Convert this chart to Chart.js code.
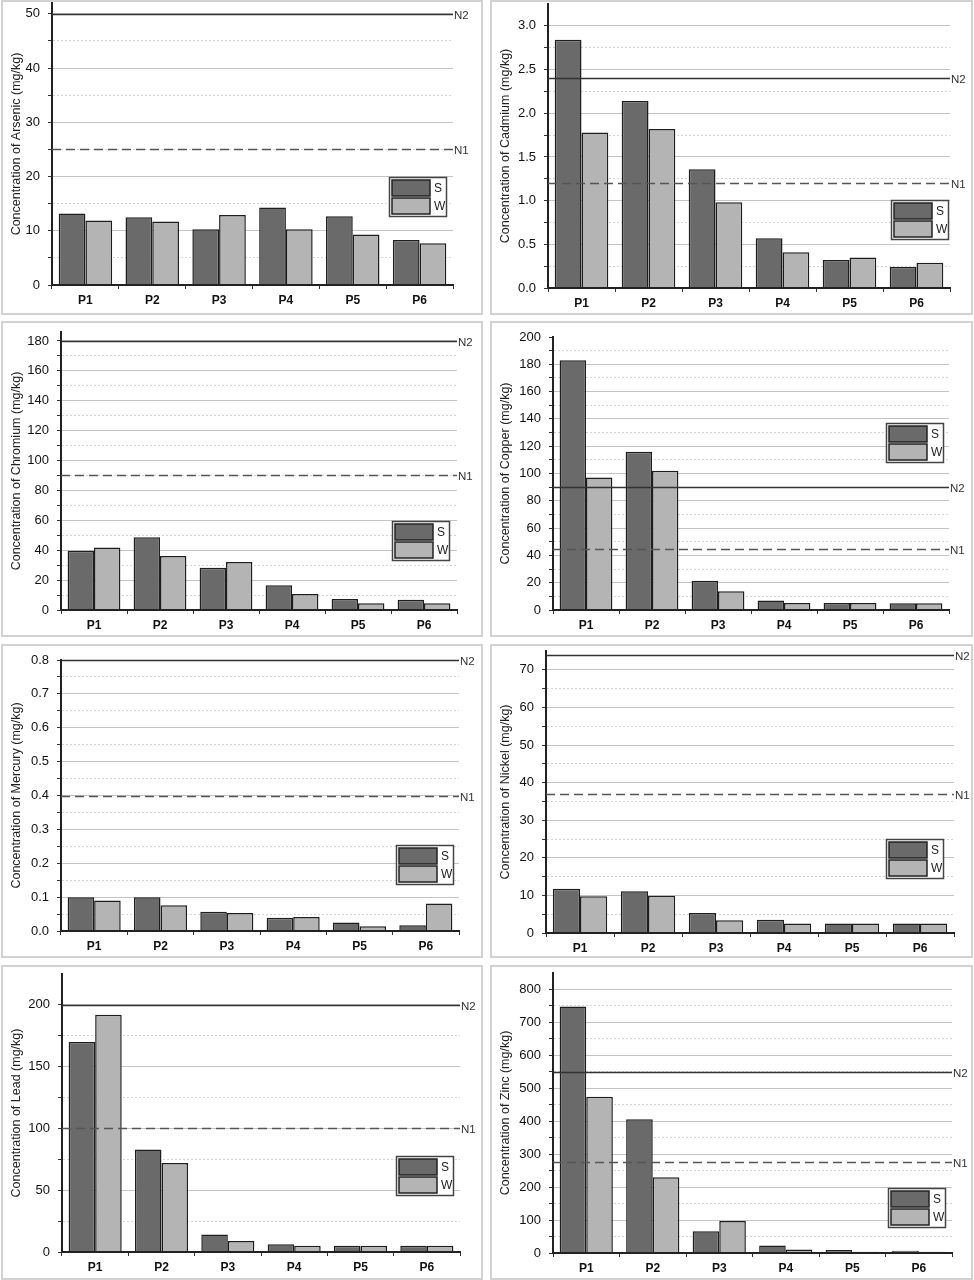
<!DOCTYPE html>
<html>
<head>
<meta charset="utf-8">
<title>Heavy metals in sediment</title>
<script src="https://cdn.jsdelivr.net/npm/chart.js@4.4.1/dist/chart.umd.min.js"></script>
<style>
  html, body { margin: 0; padding: 0; background: #fff; }
  body { position: relative; width: 974px; height: 1280px; overflow: hidden; }
  .panel { position: absolute; box-sizing: border-box; border: 2px solid #d2d2d2; background: #fff; }
  .panel canvas { display: block; }
</style>
</head>
<body>
<script>
const sites = ['P1', 'P2', 'P3', 'P4', 'P5', 'P6']
const seasons = ['S', 'W']
const metals = ['Arsenic', 'Cadmium', 'Chromium', 'Copper', 'Mercury', 'Nickel', 'Lead', 'Zinc']

const arsenicS = [13.2, 12.5, 10.3, 14.3, 12.7, 8.3]
const arsenicW = [11.9, 11.7, 12.9, 10.3, 9.3, 7.7]
const cadmiumS = [2.84, 2.14, 1.36, 0.57, 0.32, 0.24]
const cadmiumW = [1.78, 1.82, 0.98, 0.41, 0.35, 0.29]
const chromiumS = [39.6, 48.6, 28.3, 16.5, 7.4, 6.9]
const chromiumW = [41.9, 36.1, 32.1, 10.7, 4.5, 4.5]
const copperS = [183, 116, 21.5, 6.9, 5.1, 5]
const copperW = [97, 102, 13.7, 5.1, 5.1, 5]
const mercuryS = [0.100, 0.100, 0.057, 0.039, 0.025, 0.017]
const mercuryW = [0.090, 0.076, 0.053, 0.041, 0.014, 0.081]
const nickelS = [11.8, 11.1, 5.3, 3.5, 2.5, 2.5]
const nickelW = [9.8, 9.9, 3.4, 2.5, 2.5, 2.5]
const leadS = [170, 83, 14.1, 6.2, 5.1, 5.1]
const leadW = [192, 72, 8.9, 5.1, 5.1, 5.1]
const zincS = [748, 406, 66, 23, 9, 7]
const zincW = [474, 230, 97, 11, 4, 4]

const limitN1 = [25, 1.2, 90, 45, 0.4, 37, 100, 275]
const limitN2 = [50, 2.4, 180, 90, 0.8, 74, 200, 550]
const axisMax = [52, 3.25, 186, 200, 0.8, 75, 225, 850]
const minorStep = [5, 0.25, 10, 10, 0.05, 5, 25, 50]
const majorStep = [10, 0.5, 20, 20, 0.1, 10, 50, 100]
const tickDecimals = [0, 1, 0, 0, 1, 0, 0, 0]

const valuesS = [arsenicS, cadmiumS, chromiumS, copperS, mercuryS, nickelS, leadS, zincS]
const valuesW = [arsenicW, cadmiumW, chromiumW, copperW, mercuryW, nickelW, leadW, zincW]

// page geometry of each panel (pixels)
const cols = [[1, 482], [490, 483]]
const rows = [[0, 315], [321, 316], [644, 314], [965, 315]]
const layout = [
  { col: 0, row: 0, axisX: 52, top: 3, zero: 285, right: 453, legend: [389, 177] },
  { col: 1, row: 0, axisX: 548, top: 4, zero: 288, right: 950, legend: [891, 200] },
  { col: 0, row: 1, axisX: 61, top: 332, zero: 610, right: 457, legend: [392, 521] },
  { col: 1, row: 1, axisX: 553, top: 337, zero: 610, right: 949, legend: [886, 423] },
  { col: 0, row: 2, axisX: 61, top: 660, zero: 931, right: 459, legend: [396, 845] },
  { col: 1, row: 2, axisX: 546, top: 651, zero: 933, right: 954, legend: [886, 839] },
  { col: 0, row: 3, axisX: 62, top: 974, zero: 1252, right: 460, legend: [396, 1156] },
  { col: 1, row: 3, axisX: 553, top: 973, zero: 1253, right: 952, legend: [888, 1188] }
]

const FONT = '"Liberation Sans", Arial, sans-serif'
Chart.defaults.font.family = FONT
Chart.defaults.color = '#111'

const limitLines = {
  id: 'limitLines',
  afterDatasetsDraw(chart, args, opts) {
    const { ctx, chartArea: { left, right } } = chart
    const y = chart.scales.y
    ;[[opts.n2, 'N2', []], [opts.n1, 'N1', [9, 5]]].forEach(([v, name, dash]) => {
      const py = Math.round(y.getPixelForValue(v)) + 0.5
      ctx.save()
      ctx.strokeStyle = dash.length ? '#555' : '#333'
      ctx.lineWidth = 1.5
      ctx.setLineDash(dash)
      ctx.beginPath()
      ctx.moveTo(left, py)
      ctx.lineTo(right, py)
      ctx.stroke()
      ctx.setLineDash([])
      ctx.fillStyle = '#333'
      ctx.font = '11.5px ' + FONT
      ctx.textBaseline = 'middle'
      ctx.fillText(name, right + 1, py + 1)
      ctx.restore()
    })
  }
}

const boxLegend = {
  id: 'boxLegend',
  afterDraw(chart, args, opts) {
    const { ctx } = chart
    const [x, y] = opts.at
    ctx.save()
    ctx.fillStyle = '#fff'
    ctx.fillRect(x, y, 57, 39)
    ctx.strokeStyle = '#444'
    ctx.lineWidth = 1.5
    ctx.strokeRect(x + 0.5, y + 0.5, 57, 39)
    chart.data.datasets.forEach((ds, k) => {
      const sy = y + 3 + k * 18
      ctx.fillStyle = ds.backgroundColor
      ctx.fillRect(x + 3, sy, 38, 16)
      ctx.strokeStyle = '#222'
      ctx.strokeRect(x + 3, sy, 38, 16)
      ctx.fillStyle = '#222'
      ctx.font = '12px ' + FONT
      ctx.textBaseline = 'middle'
      ctx.fillText(ds.label, x + 45, sy + 9)
    })
    ctx.restore()
  }
}

metals.forEach((metal, i) => {
  const L = layout[i]
  const [left, width] = cols[L.col]
  const [top, height] = rows[L.row]
  const ox = left + 2, oy = top + 2
  const cw = width - 4, ch = height - 4

  const div = document.createElement('div')
  div.className = 'panel'
  Object.assign(div.style, { left: left + 'px', top: top + 'px', width: width + 'px', height: height + 'px' })
  const canvas = document.createElement('canvas')
  canvas.width = cw
  canvas.height = ch
  div.appendChild(canvas)
  document.body.appendChild(div)

  const max = axisMax[i]
  const isMajor = v => Math.abs(v / majorStep[i] - Math.round(v / majorStep[i])) < 1e-6
  const isTop = v => v >= max - 1e-9

  new Chart(canvas, {
    type: 'bar',
    data: {
      labels: sites,
      datasets: [
        { label: seasons[0], data: valuesS[i], backgroundColor: '#6a6a6a' },
        { label: seasons[1], data: valuesW[i], backgroundColor: '#b4b4b4' }
      ].map(d => ({ ...d, borderColor: '#1e1e1e', borderWidth: 1.5, categoryPercentage: 0.8, barPercentage: 1 }))
    },
    options: {
      responsive: false,
      animation: false,
      layout: { padding: { top: L.top - oy, right: cw - (L.right - ox), left: 0, bottom: 0 } },
      plugins: {
        legend: { display: false },
        tooltip: { enabled: false },
        limitLines: { n1: limitN1[i], n2: limitN2[i] },
        boxLegend: { at: [L.legend[0] - ox, L.legend[1] - oy] }
      },
      scales: {
        x: {
          grid: { drawOnChartArea: false, drawTicks: true, tickLength: 4, tickColor: '#333', offset: true },
          border: { color: '#222', width: 2, z: 1 },
          ticks: { font: { size: 12, weight: 'bold' }, color: '#111', padding: 4 },
          afterFit: s => { s.height = ch - (L.zero - oy); s.paddingLeft = 0; s.paddingRight = 0 }
        },
        y: {
          min: 0,
          max: max,
          afterBuildTicks: s => {
            const n = Math.floor(max / minorStep[i] + 1e-9)
            const ticks = []
            for (let k = 0; k <= n; k++) ticks.push({ value: +(k * minorStep[i]).toFixed(4) })
            if (ticks[ticks.length - 1].value < max - 1e-9) ticks.push({ value: max })
            s.ticks = ticks
          },
          afterFit: s => { s.width = L.axisX - ox; s.paddingTop = 0; s.paddingBottom = 0 },
          ticks: {
            autoSkip: false,
            font: { size: 13 },
            color: '#111',
            padding: 8,
            callback: v => (isMajor(v) ? v.toFixed(tickDecimals[i]) : '')
          },
          grid: {
            lineWidth: 1,
            tickLength: 4,
            tickBorderDash: [],
            color: c => (c.tick.value === 0 || isTop(c.tick.value)) ? 'rgba(0,0,0,0)' : (isMajor(c.tick.value) ? '#c4c4c4' : '#d4d4d4'),
            tickColor: c => isTop(c.tick.value) && !isMajor(c.tick.value) ? 'rgba(0,0,0,0)' : '#333'
          },
          border: {
            color: '#222',
            width: 2,
            dash: c => (c.type === 'tick' && !isMajor(c.tick.value)) ? [2, 2] : []
          },
          title: {
            display: true,
            text: `Concentration of ${metal} (mg/kg)`,
            font: { size: 12.5 },
            color: '#222',
            padding: { top: 6, bottom: 0 }
          }
        }
      }
    },
    plugins: [limitLines, boxLegend]
  })
})
</script>
</body>
</html>
